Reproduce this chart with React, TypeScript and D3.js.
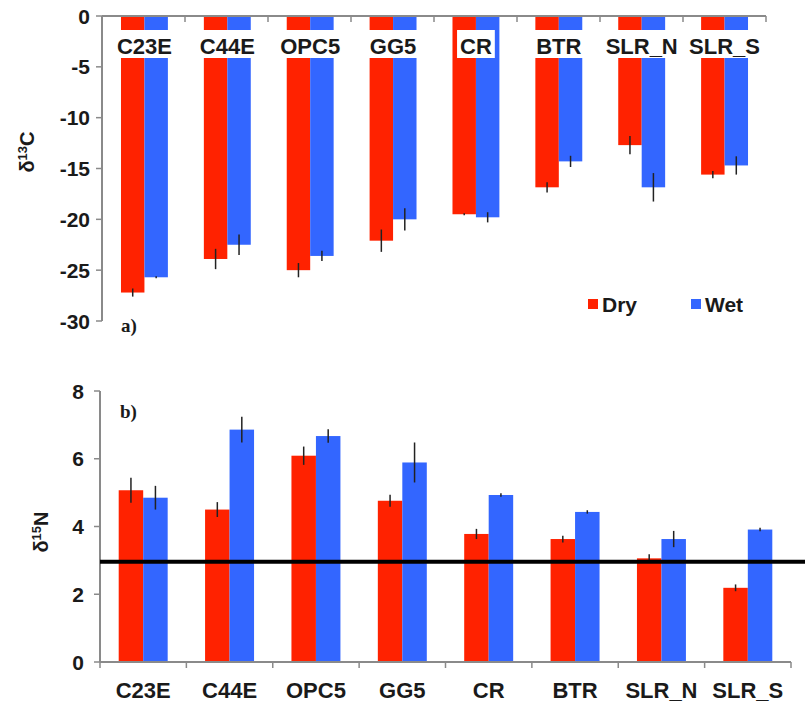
import React from "react";
import * as d3 from "d3";

const categories = ["C23E", "C44E", "OPC5", "GG5", "CR", "BTR", "SLR_N", "SLR_S"];
const series = ["Dry", "Wet"];
const colors = ["#ff2200", "#3366ff"];

const carbonDry = [-27.2, -23.9, -25.0, -22.1, -19.5, -16.85, -12.7, -15.6];
const carbonDryErr = [0.4, 1.0, 0.7, 1.1, 0.1, 0.5, 0.9, 0.35];
const carbonWet = [-25.7, -22.5, -23.6, -20.0, -19.8, -14.3, -16.85, -14.7];
const carbonWetErr = [0.1, 1.0, 0.5, 1.1, 0.5, 0.55, 1.4, 0.9];

const nitrogenDry = [5.07, 4.5, 6.09, 4.76, 3.78, 3.63, 3.06, 2.19];
const nitrogenDryErr = [0.37, 0.22, 0.27, 0.18, 0.15, 0.1, 0.12, 0.1];
const nitrogenWet = [4.85, 6.86, 6.67, 5.89, 4.93, 4.43, 3.63, 3.91];
const nitrogenWetErr = [0.35, 0.38, 0.2, 0.59, 0.05, 0.05, 0.24, 0.05];

const carbonTicks = [0, -5, -10, -15, -20, -25, -30];
const nitrogenTicks = [0, 2, 4, 6, 8];
const referenceLine = 2.96;

const FONT = "'Liberation Sans', Arial, Helvetica, sans-serif";
const AXIS = "#8a8a8a";

function measure(text: string, size: number): number {
  const c = document.createElement("canvas");
  const ctx = c.getContext("2d");
  if (!ctx) return text.length * size * 0.6;
  ctx.font = `bold ${size}px ${FONT}`;
  return ctx.measureText(text).width;
}

export default function App() {
  const xTop = d3.scaleBand<string>().domain(categories).range([103, 766]).paddingInner(0.434).paddingOuter(0.217);
  const sTop = d3.scaleBand<string>().domain(series).range([0, xTop.bandwidth()]);
  const yTop = d3.scaleLinear().domain([-30, 0]).range([321, 16]);

  const xBot = d3.scaleBand<string>().domain(categories).range([100, 791]).paddingInner(0.433).paddingOuter(0.2165);
  const sBot = d3.scaleBand<string>().domain(series).range([0, xBot.bandwidth()]);
  const yBot = d3.scaleLinear().domain([0, 8]).range([662, 391]);

  const topData = [carbonDry, carbonWet];
  const topErr = [carbonDryErr, carbonWetErr];
  const botData = [nitrogenDry, nitrogenWet];
  const botErr = [nitrogenDryErr, nitrogenWetErr];

  const stepBot = xBot.step();
  const topBoundaries = d3.range(categories.length + 1).map((i) => 102 + i * (664 / categories.length));
  const botBoundaries = d3.range(categories.length + 1).map((i) => 100 + i * stepBot);

  const labelSize = 22;
  const tickSize = 21;

  return (
    <svg width={805} height={702} style={{ position: "absolute", left: 0, top: 0, background: "#fff" }} fontFamily={FONT}>
      <rect x={0} y={0} width={805} height={702} fill="#fff" />

      {/* ===== Top panel ===== */}
      {categories.map((c, i) =>
        series.map((s, j) => {
          const v = topData[j][i];
          const x = (xTop(c) as number) + (sTop(s) as number);
          return (
            <rect key={`tb-${c}-${s}`} x={x} y={yTop(0)} width={sTop.bandwidth()} height={yTop(v) - yTop(0)} fill={colors[j]} />
          );
        })
      )}
      {categories.map((c, i) =>
        series.map((s, j) => {
          const v = topData[j][i];
          const e = topErr[j][i];
          const cx = (xTop(c) as number) + (sTop(s) as number) + sTop.bandwidth() / 2;
          return (
            <line key={`te-${c}-${s}`} x1={cx} x2={cx} y1={yTop(v - e)} y2={yTop(v + e)} stroke="#222" strokeWidth={1.5} />
          );
        })
      )}
      {categories.map((c) => {
        const cx = (xTop(c) as number) + xTop.bandwidth() / 2;
        const w = measure(c, labelSize) + 6;
        return (
          <g key={`tl-${c}`}>
            <rect x={cx - w / 2} y={30} width={w} height={28} fill="#fff" />
            <text x={cx} y={54} textAnchor="middle" fontSize={labelSize} fontWeight="bold" fill="#1a1a1a">
              {c}
            </text>
          </g>
        );
      })}
      <line x1={102} x2={102} y1={16} y2={321} stroke={AXIS} strokeWidth={2} />
      <line x1={102} x2={766} y1={16} y2={16} stroke={AXIS} strokeWidth={2} />
      {topBoundaries.map((bx, i) => (
        <line key={`ttk-${i}`} x1={bx} x2={bx} y1={16} y2={22} stroke={AXIS} strokeWidth={1.5} />
      ))}
      {carbonTicks.map((t) => (
        <g key={`tyt-${t}`}>
          <line x1={96} x2={102} y1={yTop(t)} y2={yTop(t)} stroke={AXIS} strokeWidth={1.5} />
          <text x={90} y={yTop(t) + 7.5} textAnchor="end" fontSize={tickSize} fontWeight="bold" fill="#1a1a1a">
            {t}
          </text>
        </g>
      ))}
      <text transform="translate(34,152) rotate(-90)" textAnchor="middle" fontSize={20} fontWeight="bold" fill="#1a1a1a">
        δ<tspan fontSize={13} dy={-7}>13</tspan>
        <tspan dy={7}>C</tspan>
      </text>
      <text x={121} y={332} fontFamily="'Liberation Serif', 'Times New Roman', serif" fontWeight="bold" fontSize={19} fill="#1a1a1a">
        a)
      </text>
      {series.map((s, j) => {
        const lx = j === 0 ? 588 : 691;
        return (
          <g key={`lg-${s}`}>
            <rect x={lx} y={299} width={10} height={10} fill={colors[j]} />
            <text x={lx + 14} y={312} fontSize={21} fontWeight="bold" fill="#1a1a1a">
              {s}
            </text>
          </g>
        );
      })}

      {/* ===== Bottom panel ===== */}
      {categories.map((c, i) =>
        series.map((s, j) => {
          const v = botData[j][i];
          const x = (xBot(c) as number) + (sBot(s) as number);
          return (
            <rect key={`bb-${c}-${s}`} x={x} y={yBot(v)} width={sBot.bandwidth()} height={yBot(0) - yBot(v)} fill={colors[j]} />
          );
        })
      )}
      {categories.map((c, i) =>
        series.map((s, j) => {
          const v = botData[j][i];
          const e = botErr[j][i];
          const cx = (xBot(c) as number) + (sBot(s) as number) + sBot.bandwidth() / 2;
          return (
            <line key={`be-${c}-${s}`} x1={cx} x2={cx} y1={yBot(v - e)} y2={yBot(v + e)} stroke="#222" strokeWidth={1.5} />
          );
        })
      )}
      <line x1={100} x2={100} y1={391} y2={662} stroke={AXIS} strokeWidth={2} />
      <line x1={100} x2={791} y1={662} y2={662} stroke={AXIS} strokeWidth={2} />
      {botBoundaries.map((bx, i) => (
        <line key={`btk-${i}`} x1={bx} x2={bx} y1={662} y2={668} stroke={AXIS} strokeWidth={1.5} />
      ))}
      {nitrogenTicks.map((t) => (
        <g key={`byt-${t}`}>
          <line x1={94} x2={100} y1={yBot(t)} y2={yBot(t)} stroke={AXIS} strokeWidth={1.5} />
          <text x={84} y={yBot(t) + 7.5} textAnchor="end" fontSize={tickSize} fontWeight="bold" fill="#1a1a1a">
            {t}
          </text>
        </g>
      ))}
      {categories.map((c) => (
        <text key={`bl-${c}`} x={(xBot(c) as number) + xBot.bandwidth() / 2} y={698} textAnchor="middle" fontSize={labelSize} fontWeight="bold" fill="#1a1a1a">
          {c}
        </text>
      ))}
      <line x1={100} x2={805} y1={yBot(referenceLine)} y2={yBot(referenceLine)} stroke="#000" strokeWidth={4} />
      <text transform="translate(48,532) rotate(-90)" textAnchor="middle" fontSize={20} fontWeight="bold" fill="#1a1a1a">
        δ<tspan fontSize={13} dy={-7}>15</tspan>
        <tspan dy={7}>N</tspan>
      </text>
      <text x={120} y={418} fontFamily="'Liberation Serif', 'Times New Roman', serif" fontWeight="bold" fontSize={19} fill="#1a1a1a">
        b)
      </text>
    </svg>
  );
}
